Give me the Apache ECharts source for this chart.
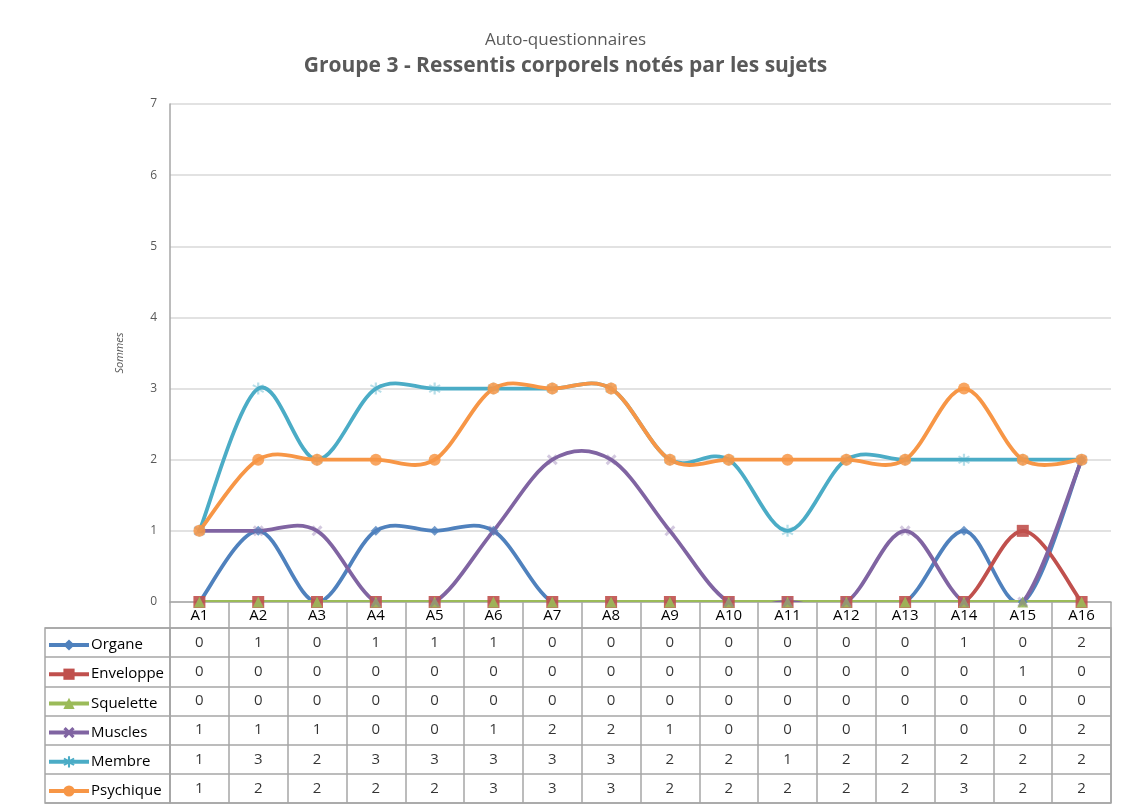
<!DOCTYPE html>
<html><head><meta charset="utf-8">
<script src="https://cdn.jsdelivr.net/npm/echarts@6/dist/echarts.min.js"></script>
<style>html,body{margin:0;padding:0;background:#fff}#c{width:1131px;height:807px}</style>
</head><body><div id="c"></div>
<script>
const categories = ['A1','A2','A3','A4','A5','A6','A7','A8','A9','A10','A11','A12','A13','A14','A15','A16'];
const seriesNames = ['Organe','Enveloppe','Squelette','Muscles','Membre','Psychique'];
const organe    = [0,1,0,1,1,1,0,0,0,0,0,0,0,1,0,2];
const enveloppe = [0,0,0,0,0,0,0,0,0,0,0,0,0,0,1,0];
const squelette = [0,0,0,0,0,0,0,0,0,0,0,0,0,0,0,0];
const muscles   = [1,1,1,0,0,1,2,2,1,0,0,0,1,0,0,2];
const membre    = [1,3,2,3,3,3,3,3,2,2,1,2,2,2,2,2];
const psychique = [1,2,2,2,2,3,3,3,2,2,2,2,2,3,2,2];
const yTicks = [0,1,2,3,4,5,6,7];

const values = [organe, enveloppe, squelette, muscles, membre, psychique];
const colors = ['#4F81BD','#C0504D','#9BBB59','#8064A2','#4BACC6','#F79646'];
const symbols = [
  'diamond',
  'rect',
  'triangle',
  'path://M2,0L5,3L8,0L10,2L7,5L10,8L8,10L5,7L2,10L0,8L3,5L0,2Z',
  'path://M4.2,0L5.8,0L5.8,3.1L8.5,1.4L9.3,2.8L6.6,4.4L6.6,5.6L9.3,7.2L8.5,8.6L5.8,6.9L5.8,10L4.2,10L4.2,6.9L1.5,8.6L0.7,7.2L3.4,5.6L3.4,4.4L0.7,2.8L1.5,1.4L4.2,3.1Z',
  'circle'
];
const symbolSizes = [10, 12, 11, 11, 12, 12];
const markerOpacity = [0.8, 0.9, 0.9, 0.35, 0.4, 0.85];
const FONT = '"Open Sans", "Liberation Sans", sans-serif';
const grey = '#a6a6a6';

// Excel-like smoothed curve (Catmull-Rom) drawn via the axes' coordinate system
function curveSeries(i) {
  const arr = values[i];
  return {
    type: 'custom', name: seriesNames[i] + '_curve', xAxisIndex: 0, yAxisIndex: 0,
    coordinateSystem: 'cartesian2d', silent: true, clip: true, z: 2 + i,
    data: [0],
    renderItem: function (params, api) {
      const pts = arr.map((v, k) => api.coord([k, v]));
      let d = 'M' + pts[0][0] + ' ' + pts[0][1];
      for (let k = 0; k < pts.length - 1; k++) {
        const p0 = pts[Math.max(k - 1, 0)], p1 = pts[k], p2 = pts[k + 1], p3 = pts[Math.min(k + 2, pts.length - 1)];
        const c1 = [p1[0] + (p2[0] - p0[0]) / 6, p1[1] + (p2[1] - p0[1]) / 6];
        const c2 = [p2[0] - (p3[0] - p1[0]) / 6, p2[1] - (p3[1] - p1[1]) / 6];
        d += ' C' + c1[0] + ' ' + c1[1] + ' ' + c2[0] + ' ' + c2[1] + ' ' + p2[0] + ' ' + p2[1];
      }
      const cs = params.coordSys;
      return { type: 'group', children: [{ type: 'path', shape: { pathData: d },
        style: { fill: 'none', stroke: colors[i], lineWidth: 3.8, lineCap: 'round', lineJoin: 'round' } }],
        clipPath: { type: 'rect', shape: { x: cs.x, y: cs.y - 10, width: cs.width, height: cs.height + 10 } } };
    }
  };
}

const markerSeries = seriesNames.map((n, i) => ({
  name: n, type: 'line', xAxisIndex: 0, yAxisIndex: 0,
  data: values[i],
  symbol: symbols[i], symbolSize: symbolSizes[i], showAllSymbol: true,
  lineStyle: { color: colors[i], width: 0, opacity: 0 },
  itemStyle: { color: colors[i], opacity: markerOpacity[i] },
  z: 10 + i
}));

const legends = seriesNames.map((n, i) => ({
  orient: 'vertical', left: 47, top: 637.5 + i * 29.2,
  itemWidth: 40, itemHeight: 14, padding: 0,
  lineStyle: { width: 4, opacity: 1 },
  itemStyle: { opacity: 1 },
  data: [n], selectedMode: false,
  textStyle: { fontSize: 15, color: '#000', fontFamily: FONT, padding: [0,0,0,-3] }
}));

const cellData = [];
values.forEach((arr, r) => arr.forEach((v, c) => cellData.push([c, r, v])));

const option = {
  animation: false,
  textStyle: { fontFamily: FONT },
  title: [
    { text: 'Auto-questionnaires', left: 'center', top: 27,
      textStyle: { fontSize: 17, fontWeight: 'normal', color: '#595959', fontFamily: FONT } },
    { text: 'Groupe 3 - Ressentis corporels notés par les sujets', left: 'center', top: 51,
      textStyle: { fontSize: 21, fontWeight: 'bold', color: '#595959', fontFamily: FONT } }
  ],
  legend: legends,
  grid: [
    { left: 170, top: 104, width: 941, height: 498 },
    { left: 170, top: 628, width: 941, height: 175, show: true, borderColor: grey, borderWidth: 1.5 },
    { left: 45, top: 628, width: 125, height: 175, show: true, borderColor: grey, borderWidth: 1.5 }
  ],
  xAxis: [
    { type: 'category', gridIndex: 0, data: categories, boundaryGap: true,
      axisLine: { lineStyle: { color: grey, width: 1.5 } },
      axisTick: { show: true, interval: 0, length: 26, lineStyle: { color: grey, width: 1.5 } },
      axisLabel: { interval: 0, color: '#000', fontSize: 15, margin: 6 } },
    { type: 'category', gridIndex: 1, data: categories, boundaryGap: true,
      axisLine: { show: false }, axisTick: { show: false }, axisLabel: { show: false },
      splitLine: { show: true, interval: 0, lineStyle: { color: grey, width: 1.5 } } },
    { type: 'category', gridIndex: 2, data: [''], boundaryGap: true,
      axisLine: { show: false }, axisTick: { show: false }, axisLabel: { show: false } }
  ],
  yAxis: [
    { type: 'value', gridIndex: 0, min: 0, max: 7, interval: 1,
      name: 'Sommes', nameLocation: 'middle', nameGap: 45,
      nameTextStyle: { fontStyle: 'italic', fontSize: 11, color: '#595959' },
      axisLine: { show: true, lineStyle: { color: grey, width: 1.5 } },
      axisTick: { show: false },
      axisLabel: { color: '#595959', fontSize: 12, margin: 13,
        formatter: v => yTicks.includes(v) ? String(v) : '' },
      splitLine: { lineStyle: { color: '#d9d9d9', width: 1.5 } } },
    { type: 'category', gridIndex: 1, data: seriesNames, inverse: true, boundaryGap: true,
      axisLine: { show: false }, axisTick: { show: false }, axisLabel: { show: false },
      splitLine: { show: true, interval: 0, lineStyle: { color: grey, width: 1.5 } } },
    { type: 'category', gridIndex: 2, data: seriesNames, inverse: true, boundaryGap: true,
      axisLine: { show: false }, axisTick: { show: false }, axisLabel: { show: false },
      splitLine: { show: true, interval: 0, lineStyle: { color: grey, width: 1.5 } } }
  ],
  series: seriesNames.map((n, i) => curveSeries(i)).concat(markerSeries).concat([{
    type: 'scatter', xAxisIndex: 1, yAxisIndex: 1, data: cellData,
    symbolSize: 0, silent: true, legendHoverLink: false,
    label: { show: true, position: 'inside', formatter: p => String(p.value[2]),
      color: '#000', fontSize: 15, fontFamily: FONT }
  }])
};
const chart = echarts.init(document.getElementById('c'));
chart.setOption(option);
</script></body></html>
